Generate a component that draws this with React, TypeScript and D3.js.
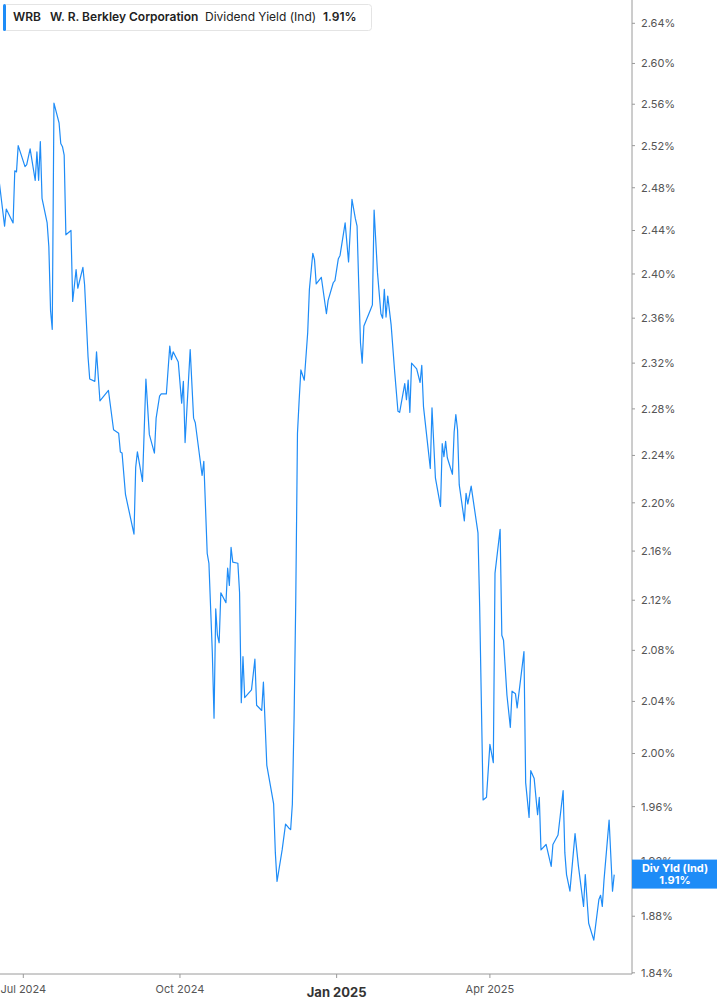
import React, { useEffect, useRef } from 'react';
import * as d3 from 'd3';

// WRB dividend yield (indicated)
const dates: string[] = [
  '2024-06-17', '2024-06-20', '2024-06-21', '2024-06-25', '2024-06-26', '2024-06-27', '2024-06-28',
  '2024-07-02', '2024-07-03', '2024-07-05', '2024-07-08', '2024-07-09', '2024-07-10', '2024-07-11', '2024-07-12',
  '2024-07-15', '2024-07-16', '2024-07-17', '2024-07-18', '2024-07-19', '2024-07-22', '2024-07-23', '2024-07-24',
  '2024-07-25', '2024-07-26', '2024-07-29', '2024-07-30',
  '2024-08-01', '2024-08-02', '2024-08-05', '2024-08-06', '2024-08-08', '2024-08-09', '2024-08-12', '2024-08-13',
  '2024-08-15', '2024-08-20', '2024-08-23', '2024-08-26', '2024-08-27', '2024-08-28', '2024-08-30',
  '2024-09-04', '2024-09-05', '2024-09-06', '2024-09-09', '2024-09-11', '2024-09-13', '2024-09-16', '2024-09-17',
  '2024-09-19', '2024-09-20', '2024-09-23', '2024-09-25', '2024-09-26', '2024-09-27', '2024-09-30',
  '2024-10-02', '2024-10-03', '2024-10-04', '2024-10-07', '2024-10-09', '2024-10-10', '2024-10-14', '2024-10-15',
  '2024-10-17', '2024-10-18', '2024-10-20', '2024-10-21', '2024-10-22', '2024-10-23', '2024-10-24', '2024-10-25',
  '2024-10-28', '2024-10-29', '2024-10-30', '2024-10-31',
  '2024-11-01', '2024-11-04', '2024-11-05', '2024-11-06', '2024-11-07', '2024-11-08', '2024-11-12', '2024-11-14',
  '2024-11-15', '2024-11-18', '2024-11-19', '2024-11-21', '2024-11-25', '2024-11-26', '2024-11-27', '2024-11-30',
  '2024-12-02', '2024-12-04', '2024-12-05', '2024-12-06', '2024-12-07', '2024-12-08', '2024-12-09', '2024-12-10',
  '2024-12-11', '2024-12-13', '2024-12-15', '2024-12-16', '2024-12-18', '2024-12-19', '2024-12-20', '2024-12-23',
  '2024-12-26', '2024-12-27', '2024-12-30', '2024-12-31',
  '2025-01-02', '2025-01-03', '2025-01-06', '2025-01-08', '2025-01-10', '2025-01-12', '2025-01-13', '2025-01-14',
  '2025-01-15', '2025-01-16', '2025-01-17', '2025-01-21', '2025-01-22', '2025-01-23', '2025-01-25', '2025-01-27',
  '2025-01-28', '2025-01-29', '2025-01-30', '2025-01-31',
  '2025-02-02', '2025-02-04', '2025-02-06', '2025-02-07', '2025-02-10', '2025-02-11', '2025-02-12', '2025-02-13',
  '2025-02-14', '2025-02-17', '2025-02-19', '2025-02-20', '2025-02-21', '2025-02-25', '2025-02-26', '2025-02-28',
  '2025-03-03', '2025-03-04', '2025-03-05', '2025-03-06', '2025-03-07', '2025-03-10', '2025-03-11', '2025-03-12',
  '2025-03-13', '2025-03-14', '2025-03-17', '2025-03-18', '2025-03-19', '2025-03-21', '2025-03-25', '2025-03-26',
  '2025-03-28', '2025-03-30',
  '2025-04-01', '2025-04-03', '2025-04-04', '2025-04-07', '2025-04-08', '2025-04-09', '2025-04-11', '2025-04-13',
  '2025-04-14', '2025-04-16', '2025-04-17', '2025-04-21', '2025-04-22', '2025-04-24', '2025-04-25', '2025-04-27',
  '2025-04-29', '2025-04-30',
  '2025-05-01', '2025-05-04', '2025-05-07', '2025-05-08', '2025-05-11', '2025-05-14', '2025-05-15', '2025-05-16',
  '2025-05-18', '2025-05-21', '2025-05-23', '2025-05-26', '2025-05-27', '2025-05-29',
  '2025-06-01', '2025-06-04', '2025-06-05', '2025-06-06', '2025-06-07', '2025-06-10', '2025-06-12', '2025-06-13',
];

const yields: number[] = [
  2.484, 2.444, 2.460, 2.447, 2.496, 2.495, 2.520,
  2.500, 2.502, 2.517, 2.487, 2.514, 2.487, 2.524, 2.470, 2.447, 2.425, 2.367, 2.350, 2.561, 2.542, 2.522,
  2.519, 2.511, 2.436, 2.440, 2.375,
  2.404, 2.387, 2.406, 2.390, 2.326, 2.306, 2.304, 2.330, 2.287, 2.296, 2.262, 2.259, 2.243, 2.242, 2.207,
  2.174, 2.230, 2.243, 2.218, 2.306, 2.258, 2.242, 2.272, 2.291, 2.293, 2.293, 2.335, 2.323, 2.330, 2.321,
  2.285, 2.304, 2.251, 2.332, 2.272, 2.268, 2.223, 2.235, 2.158, 2.150, 2.078, 2.027, 2.113, 2.092, 2.086,
  2.126, 2.118, 2.146, 2.132, 2.163,
  2.151, 2.150, 2.126, 2.039, 2.075, 2.043, 2.049, 2.073, 2.037, 2.033, 2.055, 1.991, 1.962, 1.926, 1.905, 1.928,
  1.947, 1.944, 1.943, 1.962, 2.026, 2.120, 2.259, 2.288, 2.314, 2.305, 2.347, 2.386, 2.419, 2.413, 2.391,
  2.397, 2.364, 2.376, 2.392, 2.394,
  2.414, 2.417, 2.447, 2.411, 2.469, 2.451, 2.444, 2.389, 2.338, 2.320, 2.353, 2.368, 2.372, 2.459, 2.401,
  2.364, 2.360, 2.386, 2.361, 2.380,
  2.354, 2.314, 2.278, 2.277, 2.302, 2.288, 2.305, 2.277, 2.320, 2.315, 2.303, 2.318, 2.282, 2.229, 2.281, 2.221,
  2.197, 2.250, 2.239, 2.252, 2.238, 2.224, 2.260, 2.275, 2.262, 2.215, 2.185, 2.208, 2.199, 2.214, 2.175,
  2.114, 1.965, 1.967,
  2.007, 1.993, 2.142, 2.178, 2.092, 2.088, 2.045, 2.020, 2.048, 2.046, 2.035, 2.079, 1.978, 1.952, 1.987,
  1.981, 1.954, 1.967,
  1.928, 1.932, 1.916, 1.932, 1.939, 1.972, 1.926, 1.910, 1.898, 1.940, 1.916, 1.887, 1.910, 1.875,
  1.863, 1.892, 1.895, 1.887, 1.906, 1.950, 1.898, 1.910,
];

const yTicks: number[] = [
  1.84, 1.88, 1.92, 1.96, 2.0, 2.04, 2.08, 2.12, 2.16, 2.2, 2.24, 2.28, 2.32, 2.36, 2.4, 2.44, 2.48, 2.52, 2.56,
  2.6, 2.64,
];
const xTicks: string[] = ['2024-07-01', '2024-10-01', '2025-01-01', '2025-04-01'];
const xTickLabels: string[] = ['Jul 2024', 'Oct 2024', 'Jan 2025', 'Apr 2025'];

const ticker = 'WRB';
const company = 'W. R. Berkley Corporation';
const metric = 'Dividend Yield (Ind)';
const lastLabel = 'Div Yld (Ind)';

const parse = (s: string) => {
  const [y, m, d] = s.split('-').map(Number);
  return new Date(y, m - 1, d);
};

export default function App() {
  const svgRef = useRef<SVGSVGElement>(null);

  useEffect(() => {
    document.body.style.margin = '0';
    if (!svgRef.current) return;

    const width = 717;
    const height = 1005;
    const plotRight = 632;
    const axisY = 974;
    const blue = '#1e8cf7';
    const font = 'Inter, "Noto Sans", sans-serif';

    const svg = d3.select(svgRef.current);
    svg.selectAll('*').remove();

    // time scale anchored on the quarter ticks, extends linearly to the edges
    const x = d3.scaleTime()
      .domain([parse('2024-07-01'), parse('2025-04-01')])
      .range([23.3, 489.9]);
    const y = d3.scaleLog().domain([1.84, 2.64]).range([972.8, 23.3]);

    const data = dates.map((d, i) => ({ date: parse(d), value: yields[i] }));

    svg.append('rect').attr('width', width).attr('height', height).attr('fill', '#fff');

    svg.append('clipPath').attr('id', 'plot-clip')
      .append('rect').attr('x', 0).attr('y', 0).attr('width', plotRight).attr('height', axisY);

    const line = d3.line<{ date: Date; value: number }>()
      .x(d => x(d.date))
      .y(d => y(d.value));

    svg.append('path')
      .datum(data)
      .attr('clip-path', 'url(#plot-clip)')
      .attr('d', line)
      .attr('fill', 'none')
      .attr('stroke', blue)
      .attr('stroke-width', 1.2)
      .attr('stroke-linejoin', 'round');

    // right axis
    svg.append('line')
      .attr('x1', plotRight).attr('x2', plotRight)
      .attr('y1', 0).attr('y2', axisY)
      .attr('stroke', '#9a9a9a').attr('stroke-width', 1);

    const yg = svg.append('g');
    yTicks.forEach(t => {
      yg.append('line')
        .attr('x1', plotRight).attr('x2', plotRight + 3)
        .attr('y1', y(t)).attr('y2', y(t))
        .attr('stroke', '#9a9a9a');
      yg.append('text')
        .attr('x', plotRight + 9)
        .attr('y', y(t))
        .attr('dy', '0.36em')
        .attr('fill', '#555')
        .attr('font-size', 11)
        .style('font-family', font)
        .text(`${t.toFixed(2)}%`);
    });

    // bottom axis
    svg.append('line')
      .attr('x1', 0).attr('x2', plotRight)
      .attr('y1', axisY).attr('y2', axisY)
      .attr('stroke', '#9a9a9a').attr('stroke-width', 1);

    xTicks.forEach((t, i) => {
      const px = x(parse(t));
      const isYear = t.endsWith('-01-01');
      svg.append('line')
        .attr('x1', px).attr('x2', px)
        .attr('y1', axisY).attr('y2', axisY + 4)
        .attr('stroke', '#9a9a9a');
      svg.append('text')
        .attr('x', px)
        .attr('y', isYear ? 997 : 993)
        .attr('text-anchor', 'middle')
        .attr('fill', isYear ? '#333' : '#555')
        .attr('font-size', isYear ? 13 : 11)
        .attr('font-weight', isYear ? 700 : 400)
        .style('font-family', font)
        .text(xTickLabels[i]);
    });

    // last value badge
    const last = data[data.length - 1];
    const by = y(last.value);
    svg.append('rect')
      .attr('x', plotRight).attr('y', by - 15)
      .attr('width', width - plotRight).attr('height', 29)
      .attr('fill', blue);
    svg.append('text')
      .attr('x', 675).attr('y', by - 3)
      .attr('text-anchor', 'middle').attr('fill', '#fff')
      .attr('font-size', 11).attr('font-weight', 700)
      .style('font-family', font)
      .text(lastLabel);
    svg.append('text')
      .attr('x', 675).attr('y', by + 9)
      .attr('text-anchor', 'middle').attr('fill', '#fff')
      .attr('font-size', 11).attr('font-weight', 700)
      .style('font-family', font)
      .text(`${last.value.toFixed(2)}%`);

    // legend
    const lg = svg.append('g');
    lg.append('rect')
      .attr('x', 3.5).attr('y', 4.5).attr('width', 368).attr('height', 26)
      .attr('rx', 3).attr('fill', '#fff').attr('stroke', '#e4e4e4');
    lg.append('rect')
      .attr('x', 3).attr('y', 4).attr('width', 3).attr('height', 27)
      .attr('rx', 1.5).attr('fill', blue);
    const legendItems = [
      { text: ticker, x: 13, weight: 600 },
      { text: company, x: 50, weight: 600 },
      { text: metric, x: 205, weight: 400 },
      { text: `${last.value.toFixed(2)}%`, x: 323, weight: 600 },
    ];
    legendItems.forEach(it => {
      lg.append('text')
        .attr('x', it.x).attr('y', 21)
        .attr('fill', '#222')
        .attr('font-size', 12)
        .attr('font-weight', it.weight)
        .style('font-family', font)
        .text(it.text);
    });
  }, []);

  return <svg ref={svgRef} width={717} height={1005} style={{ display: 'block' }} />;
}
